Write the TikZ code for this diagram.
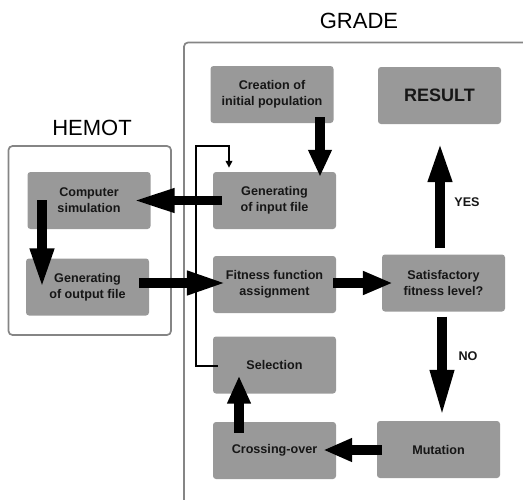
\documentclass[tikz,border=0pt]{standalone}
\usepackage{fontspec}
\setmainfont{Liberation Sans}
\usetikzlibrary{arrows.meta,calc}
\definecolor{boxfill}{HTML}{999999}
\definecolor{frame}{HTML}{858585}
\definecolor{txt}{HTML}{161616}
\tikzset{
  stage/.style={draw=none, fill=boxfill, rounded corners=3pt, minimum width=123pt, minimum height=57pt,
    align=center, text=txt, font=\fontsize{12.6}{16}\selectfont\bfseries, inner sep=0pt},
  container/.style={draw=frame, line width=1.7pt, rounded corners=4pt},
  bigarrow/.style={line width=9.5pt, -{Triangle[length=#1,width=22pt]}},
  thinarrow/.style={line width=2pt, -{Triangle[length=7pt,width=6.5pt]}},
  title/.style={font=\fontsize{22}{24}\selectfont, text=black, inner sep=0pt},
  lbl/.style={font=\fontsize{12.6}{16}\selectfont\bfseries, text=txt, inner sep=0pt}
}
\begin{document}
\begin{tikzpicture}[x=1pt,y=-1pt]
\useasboundingbox (0,0) rectangle (523,499);
\begin{scope}
\clip (0,0) rectangle (523,499);
% containers
\draw[container] (184,510) -- (184,42.5) -- (540,42.5);
\draw[container] (8.5,146) rectangle (171,335);
\end{scope}
\node[title] (grade) at (359,21) {GRADE};
\node[title] (hemot) at (92,128) {HEMOT};
% stages
\node[stage] (create) at (272,94.5) {Creation of\\initial population};
\node[stage, font=\fontsize{18}{20}\selectfont\bfseries] (result) at (439.5,95.5) {RESULT};
\node[stage] (comp) at (89,200.5) {Computer\\simulation};
\node[stage] (input) at (274.5,200.5) {Generating\\of input file};
\node[stage] (output) at (87.5,287) {Generating\\of output file};
\node[stage] (fit) at (274.5,284.5) {Fitness function\\assignment};
\node[stage] (sat) at (443.5,283) {Satisfactory\\fitness level?};
\node[stage] (sel) at (274.5,365) {Selection};
\node[stage] (cross) at (274.5,450.5) {Crossing-over};
\node[stage] (mut) at (438.5,449.5) {Mutation};
% arrows
\draw[bigarrow=27pt] ($(create.south)+(48,-6)$) -- ($(input.north)+(45.5,5)$);
\draw[bigarrow=42pt] ($(input.west)+(9,0)$) -- ($(comp.east)+(-18,0)$);
\draw[bigarrow=40pt] ($(comp.south)+(-47,-29)$) -- ($(output.north)+(-45.5,30)$);
\draw[bigarrow=40pt] ($(output.east)+(-10,-4)$) -- ($(fit.west)+(14,-1.5)$);
\draw[bigarrow=30pt] ($(fit.east)+(-3,-1.5)$) -- ($(sat.west)+(11,0)$);
\draw[bigarrow=47pt] ($(sat.south)+(-1.5,5)$) -- ($(mut.north)+(3.5,-4)$);
\draw[bigarrow=40pt] ($(sat.north)+(-3.5,-6)$) -- ($(result.south)+(0.5,18)$);
\draw[bigarrow=29pt] ($(mut.west)+(5,0.5)$) -- ($(cross.east)+(-13,-0.5)$);
\draw[bigarrow=28pt] ($(cross.north)+(-35.5,11)$) -- ($(sel.south)+(-35.5,-18)$);
% feedback loop
\coordinate (fbstart) at ($(sel.west)+(5,1)$);
\coordinate (fbend) at ($(input.north)+(-45.5,-4)$);
\draw[thinarrow] (fbstart) -- (196,366) -- (196,146) -- (fbend |- 0,146) -- (fbend);
% labels
\node[lbl] (yes) at (467,202) {YES};
\node[lbl] (no) at (468,356) {NO};
\end{tikzpicture}
\end{document}
